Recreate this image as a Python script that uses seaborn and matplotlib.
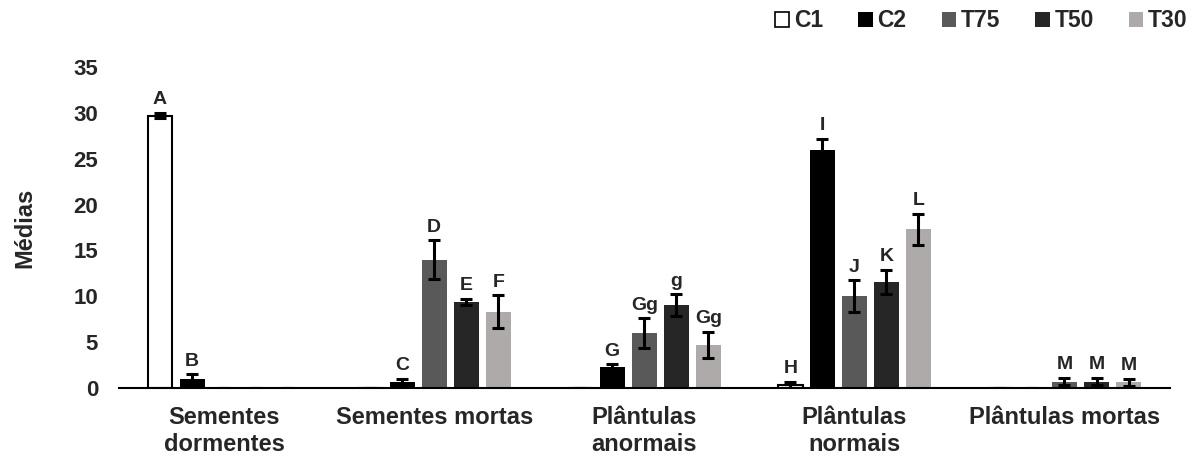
import matplotlib
matplotlib.use("Agg")
import matplotlib.pyplot as plt
from matplotlib.patches import Patch
from matplotlib.container import BarContainer
import numpy as np
import pandas as pd
import seaborn as sns

# Categories and treatments
categories = ["Sementes\ndormentes", "Sementes mortas", "Plântulas\nanormais",
              "Plântulas\nnormais", "Plântulas mortas"]
treatments = ["C1", "C2", "T75", "T50", "T30"]

# Mean values per treatment (one value per category)
c1_means = [29.7, 0.0, 0.0, 0.35, 0.0]
c2_means = [1.0, 0.6, 2.3, 25.95, 0.0]
t75_means = [0.0, 14.0, 6.0, 10.0, 0.7]
t50_means = [0.0, 9.35, 9.0, 11.6, 0.7]
t30_means = [0.0, 8.3, 4.7, 17.3, 0.6]

# Error (standard error) per treatment
c1_err = [0.3, 0.0, 0.0, 0.3, 0.0]
c2_err = [0.5, 0.4, 0.3, 1.2, 0.0]
t75_err = [0.0, 2.1, 1.6, 1.75, 0.4]
t50_err = [0.0, 0.35, 1.2, 1.3, 0.4]
t30_err = [0.0, 1.8, 1.4, 1.7, 0.4]

# Significance letters
c1_letters = ["A", "", "", "H", ""]
c2_letters = ["B", "C", "G", "I", ""]
t75_letters = ["", "D", "Gg", "J", "M"]
t50_letters = ["", "E", "g", "K", "M"]
t30_letters = ["", "F", "Gg", "L", "M"]

means = [c1_means, c2_means, t75_means, t50_means, t30_means]
errs = [c1_err, c2_err, t75_err, t50_err, t30_err]
letters = [c1_letters, c2_letters, t75_letters, t50_letters, t30_letters]

colors = ["#FFFFFF", "#000000", "#595959", "#262626", "#AEAAAA"]

df = pd.DataFrame({
    "categoria": np.tile(categories, len(treatments)),
    "tratamento": np.repeat(treatments, len(categories)),
    "media": np.concatenate(means),
})

sns.set_style("white")
plt.rcParams["font.family"] = ["Liberation Sans", "DejaVu Sans"]
plt.rcParams["font.weight"] = "bold"

fig = plt.figure(figsize=(12.02, 4.59), dpi=100)
ax = fig.add_axes([0.099, 0.1547, 0.874, 0.6993])

sns.barplot(data=df, x="categoria", y="media", hue="tratamento",
            hue_order=treatments, order=categories, palette=colors,
            width=0.762, gap=0.22, errorbar=None, legend=False, ax=ax,
            saturation=1)

bar_containers = [c for c in ax.containers if isinstance(c, BarContainer)]
for i, cont in enumerate(bar_containers):
    xs = []
    hs = []
    for p in cont.patches:
        xs.append(p.get_x() + p.get_width() / 2)
        hs.append(p.get_height())
        p.set_linewidth(0)
        if i == 0:
            p.set_edgecolor("black")
            p.set_linewidth(1.5)
    xs = np.array(xs)
    hs = np.array(hs)
    e = np.array(errs[i])
    ax.errorbar(xs, hs, yerr=e, fmt="none", ecolor="black",
                elinewidth=2.2, capsize=4.5, capthick=2.2, zorder=5)
    for x, h, ee, lab in zip(xs, hs, e, letters[i]):
        if lab:
            ax.text(x, h + ee + 0.5, lab, ha="center", va="bottom",
                    fontsize=14, fontweight="bold")

ax.set_ylim(0, 35)
ax.set_yticks(range(0, 36, 5))
ax.set_xlim(-0.5, len(categories) - 0.5)
ax.set_xlabel("")
ax.set_ylabel("Médias", fontsize=17, fontweight="bold", labelpad=27)

for s in ["top", "right", "left"]:
    ax.spines[s].set_visible(False)
ax.spines["bottom"].set_color("black")
ax.spines["bottom"].set_linewidth(1.5)

ax.tick_params(axis="y", length=0, labelsize=16, pad=15)
ax.tick_params(axis="x", length=0, labelsize=17, pad=13)
for t in ax.get_xticklabels():
    t.set_fontweight("bold")
    t.set_linespacing(1.2)
for t in ax.get_yticklabels():
    t.set_fontweight("bold")

handles = [Patch(facecolor=c, edgecolor="black" if i == 0 else c,
                 linewidth=1.2 if i == 0 else 0)
           for i, c in enumerate(colors)]
fig.legend(handles, treatments, loc="center right",
           bbox_to_anchor=(0.988, 0.955),
           ncol=5, frameon=False,
           prop={"weight": "bold", "size": 16.5},
           handlelength=0.62, handleheight=0.62, handletextpad=0.2,
           columnspacing=1.55, borderaxespad=0.0, borderpad=0.0)

fig.savefig("out.png", dpi=100)
